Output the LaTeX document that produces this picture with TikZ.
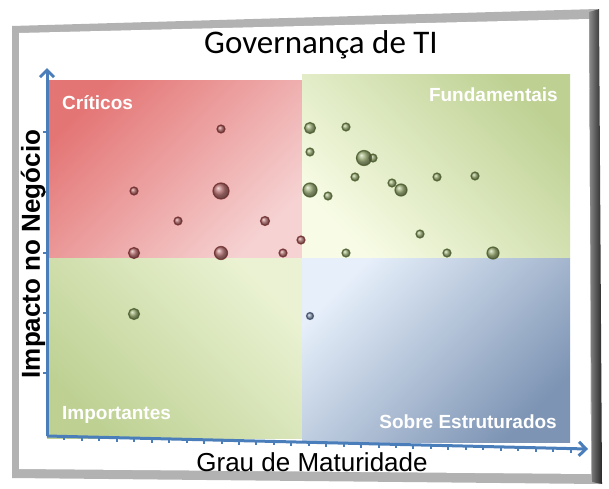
\documentclass[tikz,border=0pt]{standalone}
\usepackage{fontspec}
\setmainfont{Liberation Sans}
\newfontfamily\titlefont{Carlito}
\usepackage{xcolor}
\usetikzlibrary{arrows.meta,calc}

\definecolor{axisblue}{HTML}{4A7EBB}
\definecolor{redbub}{HTML}{A35C5C}
\definecolor{redrim}{HTML}{6E2A2A}
\definecolor{greenbub}{HTML}{869A5E}
\definecolor{greenrim}{HTML}{4A5C2C}
\definecolor{bluebub}{HTML}{7585A0}
\definecolor{bluerim}{HTML}{3E4C66}
\definecolor{reddark}{HTML}{E47575}
\definecolor{redmid}{HTML}{DE9E9E}
\definecolor{redlight}{HTML}{F6D2D2}
\definecolor{greendark}{HTML}{BED193}
\definecolor{greenmid}{HTML}{CADBA6}
\definecolor{greenlight}{HTML}{F8FCE6}
\definecolor{bluelight}{HTML}{E6EFFA}
\definecolor{bluemid}{HTML}{9EB6D7}
\definecolor{bluedark}{HTML}{7D94B4}

\tikzset{
  quadlabel/.style={text=white, font=\bfseries\fontsize{19}{19}\selectfont, inner sep=0pt},
  axisline/.style={axisblue, line width=3pt, -{Straight Barb[length=7pt,width=14pt,line width=3pt]}},
  redbubble/.style={ball color=redbub, draw=redrim, line width=1.2pt, opacity=0.8},
  greenbubble/.style={ball color=greenbub, draw=greenrim, line width=1.2pt, opacity=0.8},
  bluebubble/.style={ball color=bluebub, draw=bluerim, line width=1.2pt, opacity=0.8}
}

\begin{document}
\begin{tikzpicture}[x=1pt,y=-1pt]
\useasboundingbox (0,0) rectangle (609,488);

% frame
\fill[black!30] (12,26) -- (597,9) -- (600,484) -- (12,478) -- cycle;
\shade[left color=black!45, right color=black!85] (589,12) -- (599,9) -- (602,484) -- (592,482) -- cycle;
\fill[white] (19,33) -- (589,19) -- (591,474) -- (19,469) -- cycle;

% quadrants
\shade[top color=reddark, middle color=redmid, bottom color=redlight, shading angle=45] (47,80) rectangle (302,258);
\shade[top color=greendark, middle color=greenmid, bottom color=greenlight, shading angle=-45] (302,74) rectangle (570,258);
\shade[top color=greendark, middle color=greenmid, bottom color=greenlight!70!greenmid, shading angle=135] (47,258) rectangle (302,438);
\shade[top color=bluelight, middle color=bluemid, bottom color=bluedark, shading angle=45] (302,258) rectangle (570,442);

% bubbles
\foreach \x/\y/\r in {221/129/4, 134/191/4, 221/191/8, 178/221/4, 265/221/4.5,
                      134/253/5.5, 221/253/6.5, 283/253/4, 301/240/4}
  \shadedraw[redbubble] (\x,\y) circle (\r);
\foreach \x/\y/\r in {310/128/5.5, 346/127/4, 310/152/4, 373/158/4, 364/158/7.5,
                      355/177/4, 392/183/4, 401/190/6, 310/190/7, 328/196/4,
                      437/177/4, 475/176/4, 420/234/4, 346/253/4, 447/253/4,
                      493/253/6, 134/314/5.5}
  \shadedraw[greenbubble] (\x,\y) circle (\r);
\shadedraw[bluebubble] (310,316) circle (3.5);

% axes
\coordinate (o) at (47,436);
\coordinate (xend) at (588,449);
\coordinate (yend) at (47,68);
\draw[axisline] (o) -- (yend);
\draw[axisline] (o) -- (xend);
\foreach \t in {132,192,253,313,373}
  \draw[axisblue, line width=2pt] (43,\t) -- (47,\t);
\foreach \i in {1,...,30}
  \draw[axisblue, line width=2pt] ($(o)!\i/31!(xend)$) -- ++(0,4);

\node[quadlabel, anchor=west] (criticos) at (62,103) {Críticos};
\node[quadlabel, anchor=east] (fundamentais) at (558,95) {Fundamentais};
\node[quadlabel, anchor=west] (importantes) at (62,415) {Importantes};
\node[quadlabel, anchor=east] (sobre) at (557,422) {Sobre Estruturados};

\node[font=\titlefont\fontsize{33}{33}\selectfont] (titulo) at (321,45) {Governança de TI};
\node[font=\fontsize{26}{26}\selectfont] (grau) at (312,462) {Grau de Maturidade};
\node[rotate=90, font=\bfseries\fontsize{26}{26}\selectfont] (impacto) at (33,254) {Impacto no Negócio};

\end{tikzpicture}
\end{document}
